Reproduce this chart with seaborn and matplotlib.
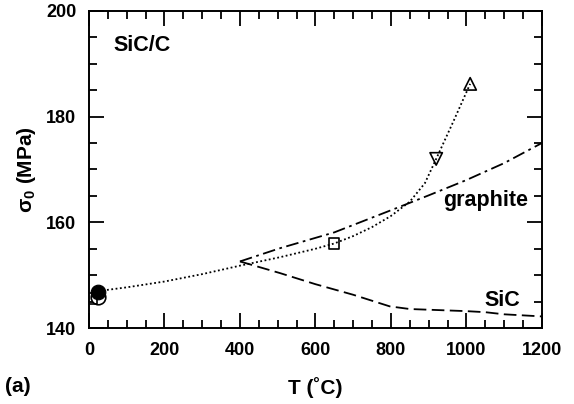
import seaborn as sns
import matplotlib.pyplot as plt
import pandas as pd

# data
T_dot = [25, 100, 200, 300, 400, 506, 600, 650, 700, 750, 800, 850, 890, 920, 965, 1010]
s_dot = [147.0, 147.7, 148.8, 150.2, 151.8, 153.4, 155.0, 156.0, 157.4, 159.1, 161.2, 163.9, 167.4, 172.0, 179.0, 186.2]

T_graphite = [400, 506, 650, 815, 900, 1000, 1100, 1200]
s_graphite = [152.6, 155.1, 158.1, 162.7, 165.1, 168.0, 171.2, 175.0]

T_sic = [400, 506, 600, 700, 797, 850, 1000, 1050, 1100, 1200]
s_sic = [152.6, 150.4, 148.3, 146.3, 144.1, 143.6, 143.2, 143.0, 142.6, 142.2]

# markers
sq_T, sq_s = [650, 8], [156.0, 145.6]
tri_T, tri_s = [1010], [186.2]
vtri_T, vtri_s = [920], [172.0]
oc_T, oc_s = [25], [145.8]
fc_T, fc_s = [25], [146.9]

sns.set_theme(style="ticks")
plt.rcParams['font.family'] = ['Liberation Sans', 'DejaVu Sans']
plt.rcParams['font.weight'] = 'bold'
plt.rcParams['text.color'] = 'black'
plt.rcParams['axes.labelcolor'] = 'black'
plt.rcParams['mathtext.fontset'] = 'custom'
plt.rcParams['mathtext.rm'] = 'Liberation Sans:bold'
plt.rcParams['mathtext.bf'] = 'Liberation Sans:bold'

fig = plt.figure(figsize=(5.74, 4.04), dpi=100)
ax = fig.add_axes([0.155, 0.188, 0.789, 0.785])

df_dot = pd.DataFrame({"T": T_dot, "s": s_dot})
df_gr = pd.DataFrame({"T": T_graphite, "s": s_graphite})
df_sic = pd.DataFrame({"T": T_sic, "s": s_sic})

sns.lineplot(data=df_dot, x="T", y="s", ax=ax, color="black", lw=1.3, linestyle=(0, (1, 1.4)))
sns.lineplot(data=df_gr, x="T", y="s", ax=ax, color="black", lw=1.3, linestyle=(0, (7, 2.5, 1.5, 2.5)))
sns.lineplot(data=df_sic, x="T", y="s", ax=ax, color="black", lw=1.3, linestyle=(0, (7, 3)))

sns.scatterplot(x=oc_T, y=oc_s, ax=ax, marker="o", s=110, facecolor="white", edgecolor="black", linewidth=1.2, zorder=3)
sns.scatterplot(x=sq_T, y=sq_s, ax=ax, marker="s", s=55, facecolor="none", edgecolor="black", linewidth=1.2, zorder=3)
sns.scatterplot(x=fc_T, y=fc_s, ax=ax, marker="o", s=110, color="black", edgecolor="black", zorder=4)
sns.scatterplot(x=tri_T, y=tri_s, ax=ax, marker="^", s=80, facecolor="none", edgecolor="black", linewidth=1.2, zorder=3)
sns.scatterplot(x=vtri_T, y=vtri_s, ax=ax, marker="v", s=80, facecolor="none", edgecolor="black", linewidth=1.2, zorder=3)

ax.set_xlim(0, 1200)
ax.set_ylim(140, 200)
ax.set_xticks(range(0, 1201, 200))
ax.set_xticks(range(0, 1201, 50), minor=True)
ax.set_yticks(range(140, 201, 20))
ax.set_yticks(range(140, 201, 5), minor=True)
ax.tick_params(which="both", direction="in", top=True, right=True, width=1.3, colors="black")
ax.tick_params(which="major", length=11, labelsize=13)
ax.tick_params(axis="x", which="major", pad=10)
ax.tick_params(axis="y", which="major", pad=9)
ax.tick_params(which="minor", length=6)
for lab in ax.get_xticklabels() + ax.get_yticklabels():
    lab.set_fontweight("bold")
for sp in ax.spines.values():
    sp.set_linewidth(1.4)
    sp.set_color("black")

ax.set_xlabel("T (˚C)", fontsize=15, fontweight="bold", labelpad=13)
ax.set_ylabel(r"σ$_\mathbf{0}$ (MPa)", fontsize=15, fontweight="bold", labelpad=6)

ax.text(65, 193.4, "SiC/C", fontsize=15.5, fontweight="bold", va="center")
ax.text(938, 164.2, "graphite", fontsize=15.5, fontweight="bold", va="center")
ax.text(1049, 145.3, "SiC", fontsize=15.5, fontweight="bold", va="center")
fig.text(0.009, 0.03, "(a)", fontsize=15, fontweight="bold")

fig.savefig("out.png", dpi=100)
